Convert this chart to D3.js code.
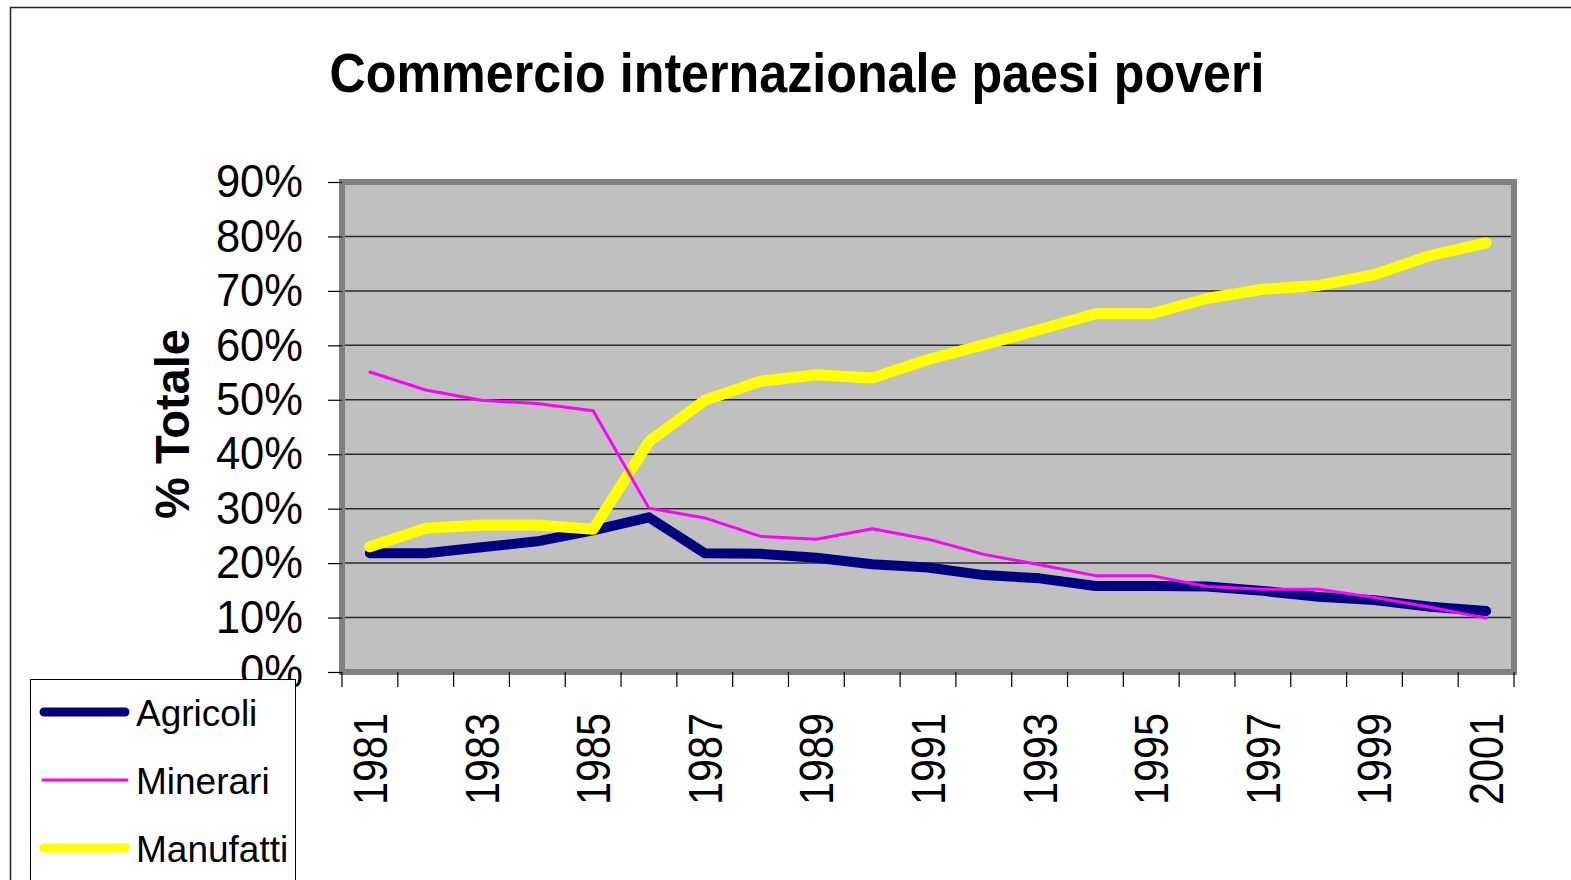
<!DOCTYPE html>
<html>
<head>
<meta charset="utf-8">
<script src="https://cdn.jsdelivr.net/npm/d3@7"></script>
<style>
  body { margin: 0; background: #fff; }
  svg { display: block; font-family: "Liberation Sans", Arial, sans-serif; }
</style>
</head>
<body>
<svg class="chart" width="1571" height="880"></svg>
<script>
const years = d3.range(1981, 2002);
const yTicks = [0, 0.1, 0.2, 0.3, 0.4, 0.5, 0.6, 0.7, 0.8, 0.9];

const agricoli = [21.8, 21.8, 22.9, 24.0, 26.0, 28.4, 21.8, 21.7, 21.0, 19.8, 19.2,
                  17.8, 17.2, 15.8, 15.8, 15.7, 14.9, 13.8, 13.2, 12.0, 11.2];
const minerari = [55.1, 51.8, 49.9, 49.3, 48.0, 30.1, 28.3, 24.9, 24.4, 26.3, 24.4,
                  21.6, 19.7, 17.7, 17.7, 15.7, 15.2, 15.2, 13.7, 11.9, 9.9];
const manufatti = [23.0, 26.4, 27.0, 27.0, 26.2, 42.3, 49.9, 53.4, 54.6, 54.0, 57.4,
                   60.1, 62.9, 65.8, 65.8, 68.6, 70.3, 71.0, 73.0, 76.5, 78.8];

const series = [
  { name: 'Agricoli', values: agricoli, color: '#000080', width: 10 },
  { name: 'Manufatti', values: manufatti, color: '#ffff00', width: 11 },
  { name: 'Minerari', values: minerari, color: '#ff00ff', width: 3 }
];
const legendOrder = ['Agricoli', 'Minerari', 'Manufatti'];

const svg = d3.select('svg.chart');

// outer chart border
svg.append('rect')
  .attr('x', 10.5).attr('y', 7.5)
  .attr('width', 1600).attr('height', 1000)
  .attr('fill', 'none').attr('stroke', '#222').attr('stroke-width', 1.5);

const xScale = d3.scaleBand().domain(years).range([342, 1514]);
const yScale = d3.scaleLinear().domain([0, 0.9]).range([672, 182]);

// plot area
svg.append('rect')
  .attr('x', 342).attr('y', 182)
  .attr('width', 1514 - 342).attr('height', 672 - 182)
  .attr('fill', '#c0c0c0')
  .attr('stroke', '#808080').attr('stroke-width', 6);

svg.append('g').selectAll('line')
  .data(yTicks.filter(d => d > 0 && d < 0.9))
  .enter().append('line')
    .attr('x1', 345).attr('x2', 1511)
    .attr('y1', d => yScale(d)).attr('y2', d => yScale(d))
    .attr('stroke', '#2a2a2a').attr('stroke-width', 1.5);

// y axis
const yAxis = svg.append('g')
  .attr('transform', 'translate(342,0)')
  .call(d3.axisLeft(yScale).tickValues(yTicks).tickFormat(d3.format('.0%'))
    .tickSize(14).tickPadding(25));
yAxis.select('.domain').remove();
yAxis.selectAll('.tick line').attr('stroke', '#000').attr('stroke-width', 1.2);
yAxis.selectAll('.tick text')
  .attr('font-size', 46).attr('fill', '#000')
  .attr('font-family', '"Liberation Sans", Arial, sans-serif')
  .each(function() {
    const w = this.getComputedTextLength();
    d3.select(this).attr('textLength', w * 0.946).attr('lengthAdjust', 'spacingAndGlyphs');
  });

// x axis ticks at band edges
const edges = years.map(d => xScale(d)).concat([xScale.range()[1]]);
svg.append('g').selectAll('line')
  .data(edges)
  .enter().append('line')
    .attr('x1', d => d).attr('x2', d => d)
    .attr('y1', 672).attr('y2', 687)
    .attr('stroke', '#000').attr('stroke-width', 1.2);

svg.append('g').selectAll('text')
  .data(years.filter((d, i) => i % 2 === 0))
  .enter().append('text')
    .attr('transform', d => `translate(${xScale(d) + xScale.bandwidth() / 2},713) rotate(-90)`)
    .attr('text-anchor', 'end')
    .attr('dominant-baseline', 'central')
    .attr('font-size', 49)
    .attr('textLength', 92).attr('lengthAdjust', 'spacingAndGlyphs')
    .text(d => d);

// lines
const lineGen = d3.line()
  .x((d, i) => xScale(years[i]) + xScale.bandwidth() / 2)
  .y(d => yScale(d / 100));

svg.append('g').selectAll('path')
  .data(series)
  .enter().append('path')
    .attr('d', d => lineGen(d.values))
    .attr('fill', 'none')
    .attr('stroke', d => d.color)
    .attr('stroke-width', d => d.width)
    .attr('stroke-linecap', 'round')
    .attr('stroke-linejoin', 'round');

// title
svg.append('text')
  .attr('x', 797).attr('y', 92)
  .attr('text-anchor', 'middle')
  .attr('font-size', 55).attr('font-weight', 'bold')
  .attr('textLength', 935).attr('lengthAdjust', 'spacingAndGlyphs')
  .text('Commercio internazionale paesi poveri');

// y axis title
svg.append('text')
  .attr('transform', 'translate(189,424) rotate(-90)')
  .attr('text-anchor', 'middle')
  .attr('font-size', 48).attr('font-weight', 'bold')
  .attr('textLength', 190).attr('lengthAdjust', 'spacingAndGlyphs')
  .text('% Totale');

// legend
const legend = svg.append('g');
legend.append('rect')
  .attr('x', 30.5).attr('y', 679.5)
  .attr('width', 265).attr('height', 300)
  .attr('fill', '#fff').attr('stroke', '#000').attr('stroke-width', 1);

const legendItems = legend.selectAll('.legends')
  .data(legendOrder.map(n => series.find(s => s.name === n)))
  .enter().append('g')
    .attr('class', 'legends')
    .attr('transform', (d, i) => `translate(0,${712 + i * 68})`);

legendItems.append('line')
  .attr('x1', d => d.width > 5 ? 44 : 43).attr('x2', d => d.width > 5 ? 125 : 127)
  .attr('y1', 0).attr('y2', 0)
  .attr('stroke', d => d.color)
  .attr('stroke-width', d => d.width > 5 ? 9 : 3)
  .attr('stroke-linecap', 'round');

legendItems.append('text')
  .attr('x', 136).attr('y', 14)
  .attr('font-size', 37)
  .text(d => d.name);
</script>
</body>
</html>
